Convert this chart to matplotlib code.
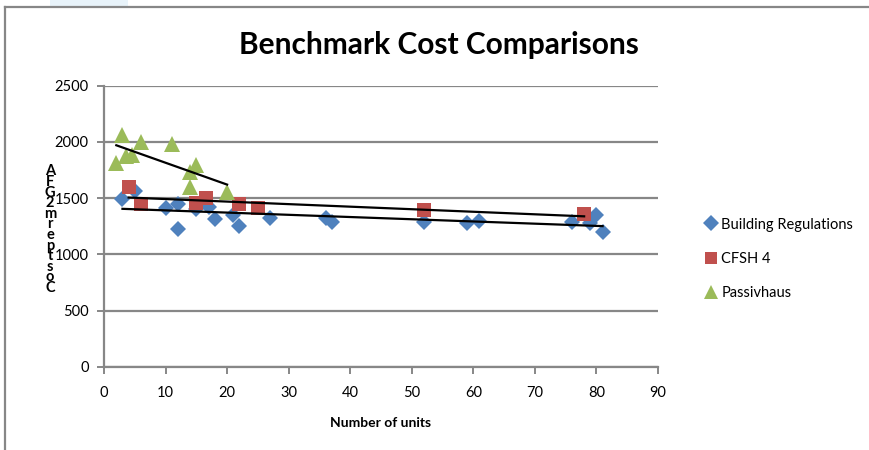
import numpy as np
import matplotlib
matplotlib.use('Agg')
import matplotlib.pyplot as plt
from matplotlib.lines import Line2D

plt.rcParams['font.family'] = ['Lato', 'DejaVu Sans']

# Building Regulations
br_x = [3, 5, 10, 12, 12, 15, 17, 18, 21, 22, 27, 36, 37, 52, 59, 61, 76, 79, 80, 81]
br_y = [1490, 1560, 1410, 1450, 1230, 1400, 1420, 1310, 1350, 1250, 1320,
        1320, 1290, 1290, 1280, 1300, 1290, 1280, 1350, 1200]
# CFSH 4
cf_x = [4, 6, 15, 16.5, 22, 25, 52, 78]
cf_y = [1600, 1450, 1460, 1500, 1450, 1410, 1390, 1360]
# Passivhaus
ph_x = [2, 3, 3.5, 4.5, 6, 11, 14, 14, 15, 20]
ph_y = [1810, 2060, 1870, 1885, 2000, 1980, 1730, 1600, 1790, 1550]

series = [
    ('Building Regulations', br_x, br_y, 'D', '#4F81BD', 8.5),
    ('CFSH 4', cf_x, cf_y, 's', '#C0504D', 10),
    ('Passivhaus', ph_x, ph_y, '^', '#9BBB59', 11),
]

title = 'Benchmark Cost Comparisons'
xlabel = 'Number of units'
ylabel = 'Cost per m2 GFA'

fig = plt.figure(figsize=(8.7, 4.5), dpi=100)
ax = fig.add_axes([104 / 870, 1 - 367 / 450, 554 / 870, (367 - 85.5) / 450])

grid_c = '#878787'
handles = []
for name, xs, ys, mk, col, ms in series:
    ax.plot(xs, ys, linestyle='none', marker=mk, color=col, markersize=ms,
            markeredgewidth=0, zorder=3)
    handles.append(Line2D([], [], linestyle='none', marker=mk, color=col,
                          markersize=ms * 0.9, markeredgewidth=0, label=name))

# linear trend lines
for name, xs, ys, mk, col, ms in series:
    k, b = np.polyfit(xs, ys, 1)
    xx = np.array([min(xs), max(xs)])
    ax.plot(xx, k * xx + b, color='black', lw=1.6, zorder=4)

ax.set_xlim(0, 90)
ax.set_ylim(0, 2500)
ax.set_xticks(range(0, 91, 10))
ax.set_yticks(range(0, 2501, 500))
ax.grid(axis='y', color=grid_c, lw=1.6)
ax.set_axisbelow(True)
for s in ['top', 'right']:
    ax.spines[s].set_visible(False)
for s in ['left', 'bottom']:
    ax.spines[s].set_color(grid_c)
    ax.spines[s].set_linewidth(1.6)
ax.tick_params(axis='both', direction='out', color=grid_c, width=1.4,
               length=5, labelsize=10.5, pad=9)
ax.tick_params(axis='y', pad=6)
ax.set_xlabel(xlabel, fontsize=10, fontweight='bold', labelpad=12)

fig.text(439 / 870, 1 - 45 / 450, title, fontsize=21.5, fontweight='bold',
         ha='center', va='center')

# stacked y label (characters drawn bottom to top)
chars = [c for c in ylabel if c != ' ']
for i, c in enumerate(chars):
    fig.text(50 / 870, 1 - (288 - i * 10.6) / 450, c, fontsize=10.5,
             fontweight='bold', ha='center', va='center')

fig.legend(handles=handles, loc='center left', frameon=False,
           bbox_to_anchor=(692 / 870, 1 - 259 / 450), fontsize=10.5,
           handlelength=0.8, handletextpad=0.3, labelspacing=1.4)

# chart area border and small artefact at top
fig.add_artist(Line2D([5 / 870, 5 / 870], [0, 1 - 6.5 / 450],
                      transform=fig.transFigure, color=grid_c, lw=1.6))
fig.add_artist(Line2D([5 / 870, 1], [1 - 6.5 / 450, 1 - 6.5 / 450],
                      transform=fig.transFigure, color=grid_c, lw=1.6))
fig.add_artist(plt.Rectangle((50 / 870, 1 - 6 / 450), 78 / 870, 6 / 450,
                             transform=fig.transFigure, color='#E8F3FA', lw=0))

fig.savefig('out.png', dpi=100)
